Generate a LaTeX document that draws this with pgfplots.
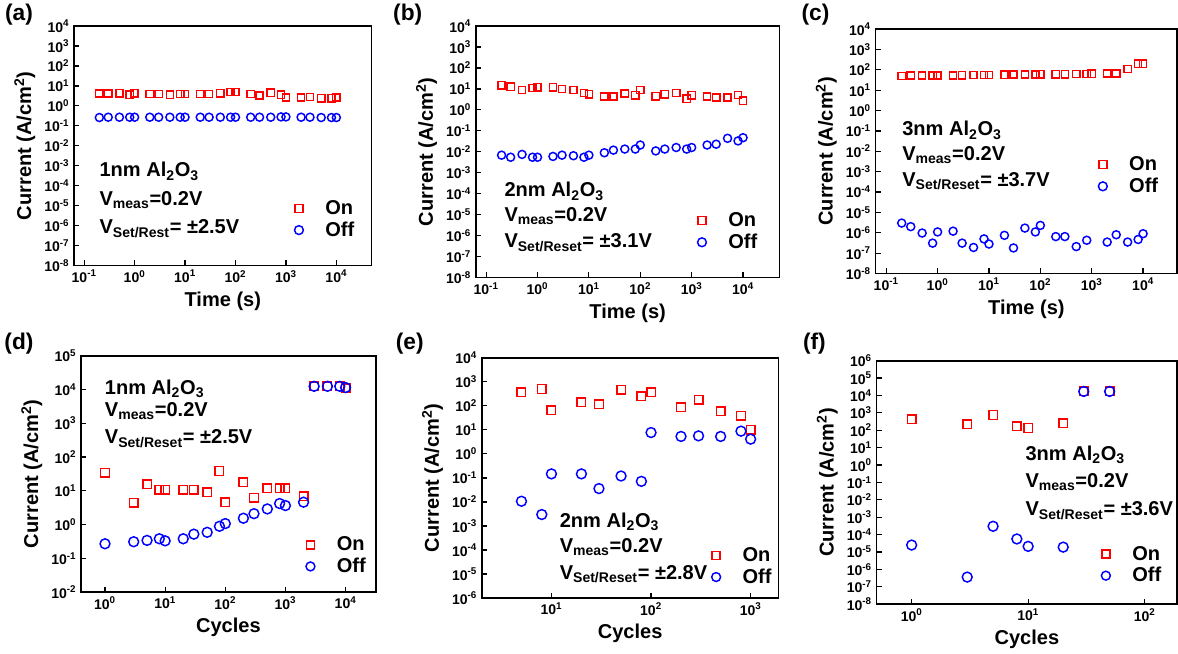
\documentclass[border=0pt]{standalone}
\usepackage{pgfplots}
\pgfplotsset{compat=1.18}
\usepackage{fontspec}
\setmainfont{Liberation Sans}
\definecolor{onred}{RGB}{255,0,0}
\definecolor{offblue}{RGB}{0,0,255}
\newcommand{\bigf}{\fontsize{15}{18}\selectfont\bfseries}
\pgfplotsset{
  mypanel/.style={
    scale only axis, log basis x=10, log basis y=10,
    anchor=south west,
    axis line style={line width=1.3pt},
    tick align=inside, xtick pos=bottom, ytick pos=left,
    major tick length=4pt, minor tick length=2.2pt,
    every tick/.style={black, line width=0.9pt},
    yminorticks=false,
    tick label style={font=\fontsize{10.5}{12}\selectfont\bfseries},
    label style={font=\bigf},
    xticklabel={\pgfmathtruncatemacro\myexp{round(\tick)}10\textsuperscript{\myexp}},
    yticklabel={\pgfmathtruncatemacro\myexp{round(\tick)}10\textsuperscript{\myexp}},
    ylabel={Current (A/cm\textsuperscript{2})},
    legend style={draw=none, fill=none, font=\bigf, anchor=south east,
      /tikz/every odd column/.append style={column sep=9pt}},
    legend cell align=left,
  },
  onmk/.style={only marks, mark=square, color=onred, mark size=2.7pt, mark options={line width=1.1pt},
    legend image code/.code={\path (0cm,0cm) (0.6cm,0cm); \draw[##1, mark options={scale=1.1, line width=1.1pt}] plot coordinates {(0.3cm,0cm)};}},
  offmk/.style={only marks, mark=o, color=offblue, mark size=3pt, mark options={line width=1.1pt},
    legend image code/.code={\path (0cm,0cm) (0.6cm,0cm); \draw[##1, mark options={scale=1.1, line width=1.1pt}] plot coordinates {(0.3cm,0cm)};}},
  onbig/.style={onmk, mark size=3.2pt,
    legend image code/.code={\path (0cm,0cm) (0.6cm,0cm); \draw[##1, mark options={scale=0.95, line width=1.1pt}] plot coordinates {(0.3cm,0cm)};}},
  offbig/.style={offmk, mark size=3.7pt,
    legend image code/.code={\path (0cm,0cm) (0.6cm,0cm); \draw[##1, mark options={scale=0.9, line width=1.1pt}] plot coordinates {(0.3cm,0cm)};}},
}
\begin{document}
\begin{tikzpicture}
% (a)
\begin{loglogaxis}[mypanel, at={(57pt,297.75pt)}, width=222.75pt, height=179.25pt,
  xmin=0.063, xmax=50000, ymin=1e-8, ymax=1e4,
  xtick={0.1,1,10,100,1000,10000},
  ytick={1e-8,1e-7,1e-6,1e-5,1e-4,1e-3,1e-2,1e-1,1,1e1,1e2,1e3,1e4},
  xlabel={Time (s)}, legend style={at={(0.965,0.09)}}]
\addplot[onmk] coordinates {(0.2,4.2) (0.3,4.2) (0.5,4.3) (0.8,3.6) (1,4.3) (2,3.9) (3,3.9) (5,3.6) (8,4.0) (10,4.0) (20,3.9) (30,3.9) (50,4.3) (80,4.9) (100,4.9) (200,3.9) (300,3.3) (500,4.5) (800,3.6) (1000,2.6) (2000,2.6) (3000,2.8) (5000,2.4) (8000,2.4) (10000,2.6)};
\addlegendentry{On}
\addplot[offmk] coordinates {(0.2,0.26) (0.3,0.27) (0.5,0.27) (0.8,0.27) (1,0.27) (2,0.27) (3,0.27) (5,0.27) (8,0.27) (10,0.27) (20,0.27) (30,0.27) (50,0.27) (80,0.27) (100,0.27) (200,0.27) (300,0.27) (500,0.27) (800,0.28) (1000,0.28) (2000,0.27) (3000,0.27) (5000,0.26) (8000,0.26) (10000,0.26)};
\addlegendentry{Off}
\node[anchor=west, font=\bigf] at (rel axis cs:0.07,0.393) {1nm Al\textsubscript{2}O\textsubscript{3}};
\node[anchor=west, font=\bigf] at (rel axis cs:0.07,0.272) {V\textsubscript{meas}=0.2V};
\node[anchor=west, font=\bigf] at (rel axis cs:0.07,0.155) {V\textsubscript{Set/Rest}= ±2.5V};
\end{loglogaxis}
% (b)
\begin{loglogaxis}[mypanel, at={(357.75pt,288.75pt)}, width=227.25pt, height=188.25pt,
  xmin=0.063, xmax=51000, ymin=1e-8, ymax=1e4,
  xtick={0.1,1,10,100,1000,10000},
  ytick={1e-8,1e-7,1e-6,1e-5,1e-4,1e-3,1e-2,1e-1,1,1e1,1e2,1e3,1e4},
  xlabel={Time (s)}, legend style={at={(0.95,0.085)}}]
\addplot[onmk] coordinates {(0.2,15) (0.3,12.6) (0.5,8.8) (0.8,11) (1,12) (2,12) (3,10) (5,9) (8,6.5) (10,5.6) (20,4.4) (30,4.4) (50,6) (80,5) (100,8.8) (200,4.5) (300,5.6) (500,6.3) (800,3.4) (1000,5) (2000,4.4) (3000,3.9) (5000,3.9) (8000,5.2) (10000,2.7)};
\addlegendentry{On}
\addplot[offmk] coordinates {(0.2,0.0069) (0.3,0.0055) (0.5,0.0075) (0.8,0.0055) (1,0.0055) (2,0.006) (3,0.0069) (5,0.0065) (8,0.0055) (10,0.0069) (20,0.009) (30,0.012) (50,0.0135) (80,0.0135) (100,0.021) (200,0.011) (300,0.0135) (500,0.016) (800,0.0135) (1000,0.016) (2000,0.021) (3000,0.023) (5000,0.044) (8000,0.033) (10000,0.047)};
\addlegendentry{Off}
\node[anchor=west, font=\bigf] at (rel axis cs:0.079,0.343) {2nm Al\textsubscript{2}O\textsubscript{3}};
\node[anchor=west, font=\bigf] at (rel axis cs:0.079,0.243) {V\textsubscript{meas}=0.2V};
\node[anchor=west, font=\bigf] at (rel axis cs:0.079,0.139) {V\textsubscript{Set/Reset}= ±3.1V};
\end{loglogaxis}
% (c)
\begin{loglogaxis}[mypanel, at={(657pt,291.75pt)}, width=225.75pt, height=183pt,
  xmin=0.062, xmax=46000, ymin=1e-8, ymax=1e4,
  xtick={0.1,1,10,100,1000,10000},
  ytick={1e-8,1e-7,1e-6,1e-5,1e-4,1e-3,1e-2,1e-1,1,1e1,1e2,1e3,1e4},
  xlabel={Time (s)}, legend style={at={(0.96,0.30)}}]
\addplot[onmk] coordinates {(0.2,50) (0.3,52) (0.5,52) (0.8,53) (1,53) (2,53) (3,54) (5,55) (8,55) (10,55) (20,57) (30,58) (50,58) (80,58) (100,60) (200,60) (300,60) (500,62) (800,62) (1000,64) (2000,65) (3000,65) (5000,110) (8000,200) (10000,200)};
\addlegendentry{On}
\addplot[offmk] coordinates {(0.2,3e-6) (0.3,2e-6) (0.5,9.7e-7) (0.8,3.1e-7) (1,1.1e-6) (2,1.2e-6) (3,3.1e-7) (5,1.9e-7) (8,5e-7) (10,2.8e-7) (20,7.5e-7) (30,1.8e-7) (50,1.7e-6) (80,1.1e-6) (100,2.3e-6) (200,6.5e-7) (300,6.5e-7) (500,2.1e-7) (800,4.3e-7) (2000,3.5e-7) (3000,8e-7) (5000,3.5e-7) (8000,4.7e-7) (10000,9e-7)};
\addlegendentry{Off}
\node[anchor=west, font=\bigf] at (rel axis cs:0.073,0.586) {3nm Al\textsubscript{2}O\textsubscript{3}};
\node[anchor=west, font=\bigf] at (rel axis cs:0.073,0.484) {V\textsubscript{meas}=0.2V};
\node[anchor=west, font=\bigf] at (rel axis cs:0.073,0.377) {V\textsubscript{Set/Reset}= ±3.7V};
\end{loglogaxis}
% (d)
\begin{loglogaxis}[mypanel, at={(62.25pt,53.25pt)}, width=220.5pt, height=177pt,
  xmin=0.4, xmax=31600, ymin=1e-2, ymax=1e5,
  xtick={1,10,100,1000,10000},
  ytick={1e-2,1e-1,1,1e1,1e2,1e3,1e4,1e5},
  xlabel={Cycles}, legend style={at={(0.99,0.05)}}]
\addplot[onbig] coordinates {(1,34) (3,4.4) (5,15.6) (8,10.8) (10,10.8) (20,10.8) (30,10.8) (50,9.1) (80,38.6) (100,4.6) (200,17.9) (300,6.3) (500,11.9) (800,11.9) (1000,11.9) (2000,6.9) (3000,12400) (5000,12400) (8000,12400) (10000,11000)};
\addlegendentry{On}
\addplot[offbig] coordinates {(1,0.27) (3,0.31) (5,0.34) (8,0.38) (10,0.33) (20,0.38) (30,0.52) (50,0.59) (80,0.89) (100,1.07) (200,1.54) (300,2.1) (500,2.9) (800,4.2) (1000,3.65) (2000,4.6) (3000,12400) (5000,12400) (8000,12400) (10000,11400)};
\addlegendentry{Off}
\node[anchor=west, font=\bigf] at (rel axis cs:0.065,0.86) {1nm Al\textsubscript{2}O\textsubscript{3}};
\node[anchor=west, font=\bigf] at (rel axis cs:0.065,0.767) {V\textsubscript{meas}=0.2V};
\node[anchor=west, font=\bigf] at (rel axis cs:0.065,0.648) {V\textsubscript{Set/Reset}= ±2.5V};
\end{loglogaxis}
% (e)
\begin{loglogaxis}[mypanel, at={(362.25pt,48.75pt)}, width=222pt, height=180pt,
  xmin=2, xmax=1900, ymin=1e-6, ymax=1e4,
  xtick={10,100,1000},
  ytick={1e-6,1e-5,1e-4,1e-3,1e-2,1e-1,1,1e1,1e2,1e3,1e4},
  xlabel={Cycles}, legend style={at={(1.0,0.03)}}]
\addplot[onbig] coordinates {(5,360) (8,500) (10,64) (20,138) (30,114) (50,465) (80,246) (100,360) (200,88) (300,178) (500,60) (800,38) (1000,10)};
\addlegendentry{On}
\addplot[offbig] coordinates {(5,0.0107) (8,0.003) (10,0.147) (20,0.147) (30,0.036) (50,0.12) (80,0.072) (100,7.7) (200,5.3) (300,5.6) (500,5.3) (800,8.8) (1000,4.1)};
\addlegendentry{Off}
\node[anchor=west, font=\bigf] at (rel axis cs:0.247,0.317) {2nm Al\textsubscript{2}O\textsubscript{3}};
\node[anchor=west, font=\bigf] at (rel axis cs:0.247,0.212) {V\textsubscript{meas}=0.2V};
\node[anchor=west, font=\bigf] at (rel axis cs:0.247,0.10) {V\textsubscript{Set/Reset}= ±2.8V};
\end{loglogaxis}
% (f)
\begin{loglogaxis}[mypanel, at={(657.75pt,44.25pt)}, width=225pt, height=182.25pt,
  xmin=0.5, xmax=190, ymin=1e-8, ymax=1e6,
  xtick={1,10,100},
  ytick={1e-8,1e-7,1e-6,1e-5,1e-4,1e-3,1e-2,1e-1,1,1e1,1e2,1e3,1e4,1e5,1e6},
  xlabel={Cycles}, legend style={at={(0.97,0.06)}}]
\addplot[onbig] coordinates {(1,440) (3,227) (5,750) (8,166) (10,134) (20,247) (30,17000) (50,17000)};
\addlegendentry{On}
\addplot[offbig] coordinates {(1,2.5e-5) (3,3.6e-7) (5,3e-4) (8,5.6e-5) (10,2.1e-5) (20,1.9e-5) (30,17000) (50,17000)};
\addlegendentry{Off}
\node[anchor=west, font=\bigf] at (rel axis cs:0.48,0.613) {3nm Al\textsubscript{2}O\textsubscript{3}};
\node[anchor=west, font=\bigf] at (rel axis cs:0.48,0.502) {V\textsubscript{meas}=0.2V};
\node[anchor=west, font=\bigf] at (rel axis cs:0.48,0.383) {V\textsubscript{Set/Reset}= ±3.6V};
\end{loglogaxis}
\node[font=\fontsize{17}{20}\selectfont\bfseries] at (15.75pt,485.25pt) {(a)};
\node[font=\fontsize{17}{20}\selectfont\bfseries] at (306.75pt,485.25pt) {(b)};
\node[font=\fontsize{17}{20}\selectfont\bfseries] at (612pt,485.25pt) {(c)};
\node[font=\fontsize{17}{20}\selectfont\bfseries] at (15.75pt,239.25pt) {(d)};
\node[font=\fontsize{17}{20}\selectfont\bfseries] at (308.25pt,239.25pt) {(e)};
\node[font=\fontsize{17}{20}\selectfont\bfseries] at (611.25pt,239.25pt) {(f)};
\end{tikzpicture}
\end{document}
